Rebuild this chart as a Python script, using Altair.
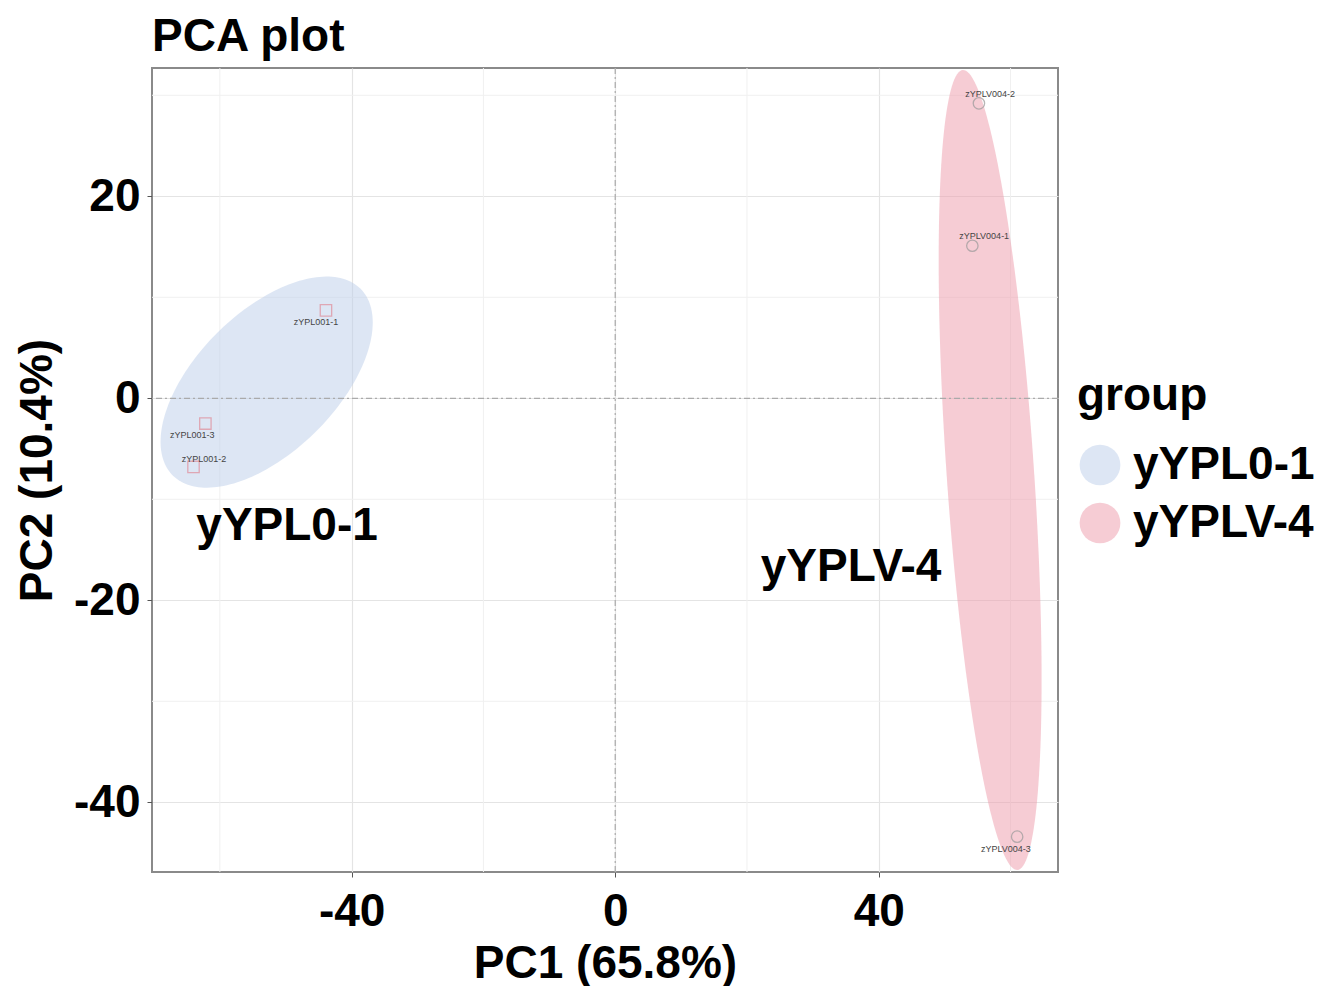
import altair as alt
import numpy as np
import pandas as pd

# ---- data ----
samples = ["zYPL001-1", "zYPL001-2", "zYPL001-3", "zYPLV004-1", "zYPLV004-2", "zYPLV004-3"]
groups = ["yYPL0-1", "yYPL0-1", "yYPL0-1", "yYPLV-4", "yYPLV-4", "yYPLV-4"]
pc1 = [-43.9, -64.0, -62.2, 54.2, 55.2, 61.0]
pc2 = [8.7, -6.8, -2.5, 15.1, 29.2, -43.4]
label_x = [-45.4, -62.4, -64.2, 56.0, 56.9, 59.3]
label_y = [7.6, -6.0, -3.6, 16.1, 30.1, -44.6]

group_names = ["yYPL0-1", "yYPLV-4"]
group_fill = ["#bccdea", "#ee9aaa"]
point_stroke = ["#e08d9a", "#9a9a9a"]
point_shape = ["square", "circle"]

# ellipse parameters (centre, spreads, correlation)
ell_cx = [-52.9, 56.9]
ell_cy = [1.6, -7.1]
ell_sx = [16.1, 7.81]
ell_sy = [10.45, 39.6]
ell_r = [0.565, -0.524]

group_text_x = [-49.8, 35.8]
group_text_y = [-12.6, -16.7]

x_major = [-40, 0, 40]
y_major = [-40, -20, 0, 20]
x_minor = [-60, -20, 20, 60]
y_minor = [-30, -10, 10, 30]

x_dom = [-70.3, 67.2]
y_dom = [-46.9, 32.7]

FONT = "Liberation Sans"
FS = 46

pts = pd.DataFrame({"sample": samples, "grp": groups, "PC1": pc1, "PC2": pc2,
                    "lx": label_x, "ly": label_y})

rows = []
t = np.linspace(0, 2 * np.pi, 181)
for g, cx, cy, sx, sy, r in zip(group_names, ell_cx, ell_cy, ell_sx, ell_sy, ell_r):
    cov = np.array([[sx * sx, r * sx * sy], [r * sx * sy, sy * sy]])
    L = np.linalg.cholesky(cov)
    xy = L @ np.vstack([np.cos(t), np.sin(t)])
    for i in range(len(t)):
        rows.append({"group": g, "i": i, "ex": cx + xy[0, i], "ey": cy + xy[1, i]})
ell = pd.DataFrame(rows)

xs = alt.Scale(domain=x_dom, nice=False, zero=False)
ys = alt.Scale(domain=y_dom, nice=False, zero=False)

x_axis = alt.Axis(values=x_major, title="PC1 (65.8%)", grid=True, gridColor="#e4e4e4",
                  gridWidth=1.2, domain=False, tickColor="#555555", tickSize=5,
                  labelExpr="datum.value + ''",
                  labelFontSize=FS, labelFont=FONT, labelFontWeight="bold", labelColor="#000000",
                  labelPadding=12, titleFontSize=FS, titleFont=FONT, titleFontWeight="bold",
                  titleColor="#000000", titlePadding=7, labelFlush=False)
y_axis = alt.Axis(values=y_major, title="PC2 (10.4%)", grid=True, gridColor="#e4e4e4",
                  gridWidth=1.2, domain=False, tickColor="#555555", tickSize=5,
                  labelExpr="datum.value + ''",
                  labelFontSize=FS, labelFont=FONT, labelFontWeight="bold", labelColor="#000000",
                  labelPadding=7, titleFontSize=FS, titleFont=FONT, titleFontWeight="bold",
                  titleColor="#000000", titlePadding=12, labelFlush=False)


def X(field):
    return alt.X(field, scale=xs, axis=x_axis)


def Y(field):
    return alt.Y(field, scale=ys, axis=y_axis)


minor_x = alt.Chart(pd.DataFrame({"v": x_minor})).mark_rule(color="#f0f0f0", strokeWidth=1).encode(
    x=X("v:Q"))
minor_y = alt.Chart(pd.DataFrame({"v": y_minor})).mark_rule(color="#f0f0f0", strokeWidth=1).encode(
    y=Y("v:Q"))

ellipses = alt.Chart(ell).mark_line(strokeWidth=0, fillOpacity=0.5, strokeOpacity=0).encode(
    x=X("ex:Q"),
    y=Y("ey:Q"),
    detail="group:N",
    order="i:Q",
    fill=alt.Fill("group:N", scale=alt.Scale(domain=group_names, range=group_fill),
                  legend=alt.Legend(title="group", symbolType="circle", symbolSize=1660,
                                    symbolStrokeWidth=0, symbolOpacity=0.5,
                                    titleFontSize=FS, titleFont=FONT, titleFontWeight="bold",
                                    labelFontSize=FS, labelFont=FONT, labelFontWeight="bold",
                                    labelColor="#000000", titleColor="#000000", labelLimit=0,
                                    labelOffset=10, rowPadding=12, titlePadding=22,
                                    orient="none", legendX=925, legendY=306)),
)

zero_h = alt.Chart(pd.DataFrame({"v": [0]})).mark_rule(color="#aaaaaa", strokeDash=[6, 3, 2, 3],
                                                      strokeWidth=1.2).encode(y=Y("v:Q"))
zero_v = alt.Chart(pd.DataFrame({"v": [0]})).mark_rule(color="#aaaaaa", strokeDash=[6, 3, 2, 3],
                                                      strokeWidth=1.2).encode(x=X("v:Q"))

point_layers = []
for g, shp, col in zip(group_names, point_shape, point_stroke):
    point_layers.append(
        alt.Chart(pts).transform_filter(alt.datum.grp == g).mark_point(
            filled=False, size=130, strokeWidth=1.3, shape=shp, color=col).encode(
            x=X("PC1:Q"), y=Y("PC2:Q"))
    )

labels = alt.Chart(pts).mark_text(fontSize=9, font=FONT, color="#444444",
                                  align="center", baseline="middle").encode(
    x=X("lx:Q"),
    y=Y("ly:Q"),
    text="sample:N",
)

gtext = alt.Chart(pd.DataFrame({"g": group_names, "x": group_text_x, "y": group_text_y})).mark_text(
    fontSize=FS, font=FONT, fontWeight="bold", color="#000000", align="center", baseline="middle").encode(
    x=X("x:Q"),
    y=Y("y:Q"),
    text="g:N",
)

chart = alt.layer(minor_x, minor_y, ellipses, zero_h, zero_v, *point_layers, labels, gtext).properties(
    width=906, height=804,
    title=alt.TitleParams("PCA plot", anchor="start", fontSize=FS, font=FONT, fontWeight="bold",
                          color="#000000", baseline="bottom", offset=8, frame="group", dy=48),
    autosize=alt.AutoSizeParams(type="none"),
    padding={"left": 144, "top": 60, "right": 278, "bottom": 114},
).configure(background="#ffffff").configure_view(stroke="#8a8a8a", strokeWidth=2)

chart.save("out.html", embed_options={"renderer": "svg", "actions": False})
